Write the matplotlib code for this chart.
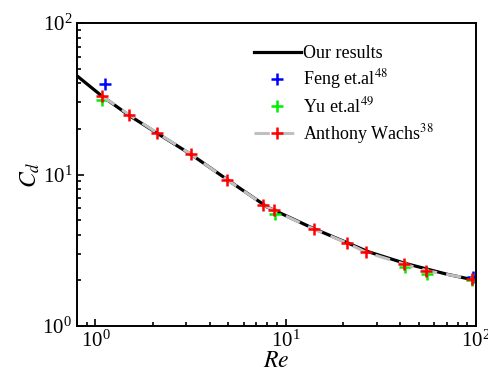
import matplotlib.pyplot as plt

plt.rcParams['font.family'] = 'Liberation Serif'
plt.rcParams['mathtext.fontset'] = 'stix'

# drag coefficient vs Reynolds number
re_ours = [0.8, 1.08, 1.5, 2.1, 3.2, 4.9, 8.0, 14.0, 21.0, 27.0, 42.0, 55.0, 70.0, 100.0]
cd_ours = [44.8, 33.0, 24.6, 18.8, 13.5, 9.3, 6.1, 4.4, 3.55, 3.1, 2.6, 2.38, 2.2, 2.0]

re_feng = [1.12, 96.5]
cd_feng = [39.4, 2.10]

re_yu = [1.08, 8.8, 42.4, 55.3, 95.8]
cd_yu = [30.9, 5.49, 2.45, 2.21, 2.02]

re_wachs = [1.08, 1.50, 2.10, 3.18, 4.9, 7.64, 8.63, 14.0, 21.0, 26.5, 41.7, 54.9, 95.5]
cd_wachs = [33.0, 24.9, 18.9, 13.6, 9.27, 6.33, 5.80, 4.37, 3.53, 3.06, 2.57, 2.32, 2.04]

fig = plt.figure(figsize=(4.89, 3.78), dpi=100)
ax = fig.add_axes([0.1575, 0.1376, 0.8159, 0.8014])

ax.plot(re_ours, cd_ours, color='black', lw=2.3, label='Our results')
ax.plot(re_feng, cd_feng, ls='none', marker='+', ms=8.5, mew=1.8,
        color='#0000ff', label='Feng et.al$^{48}$')
ax.plot(re_yu, cd_yu, ls='none', marker='+', ms=8.5, mew=1.8,
        color='#00ee00', label='Yu et.al$^{49}$')
ax.plot(re_wachs, cd_wachs, ls=(0, (5, 3)), lw=2.2, color='#c0c0c0',
        marker='+', ms=8.5, mew=1.8, mec='#ff0000', label='Anthony Wachs$^{38}$')

ax.set_xscale('log')
ax.set_yscale('log')
ax.set_xlim(0.8, 100)
ax.set_ylim(1, 100)

ax.set_xlabel('$Re$', fontsize=17, labelpad=-1)
ax.set_ylabel('$C_d$', fontsize=17, labelpad=0)

ax.tick_params(which='both', direction='in', top=False, right=False,
               labelsize=15, width=1.2)
ax.tick_params(which='major', length=5)
ax.tick_params(which='minor', length=3)
for sp in ax.spines.values():
    sp.set_linewidth(1.4)

ax.legend(loc='upper left', frameon=False, fontsize=13, handlelength=2.6,
          handletextpad=0.1, labelspacing=0.28, borderaxespad=0,
          bbox_to_anchor=(0.425, 0.95))

fig.savefig('out.png', dpi=100)
